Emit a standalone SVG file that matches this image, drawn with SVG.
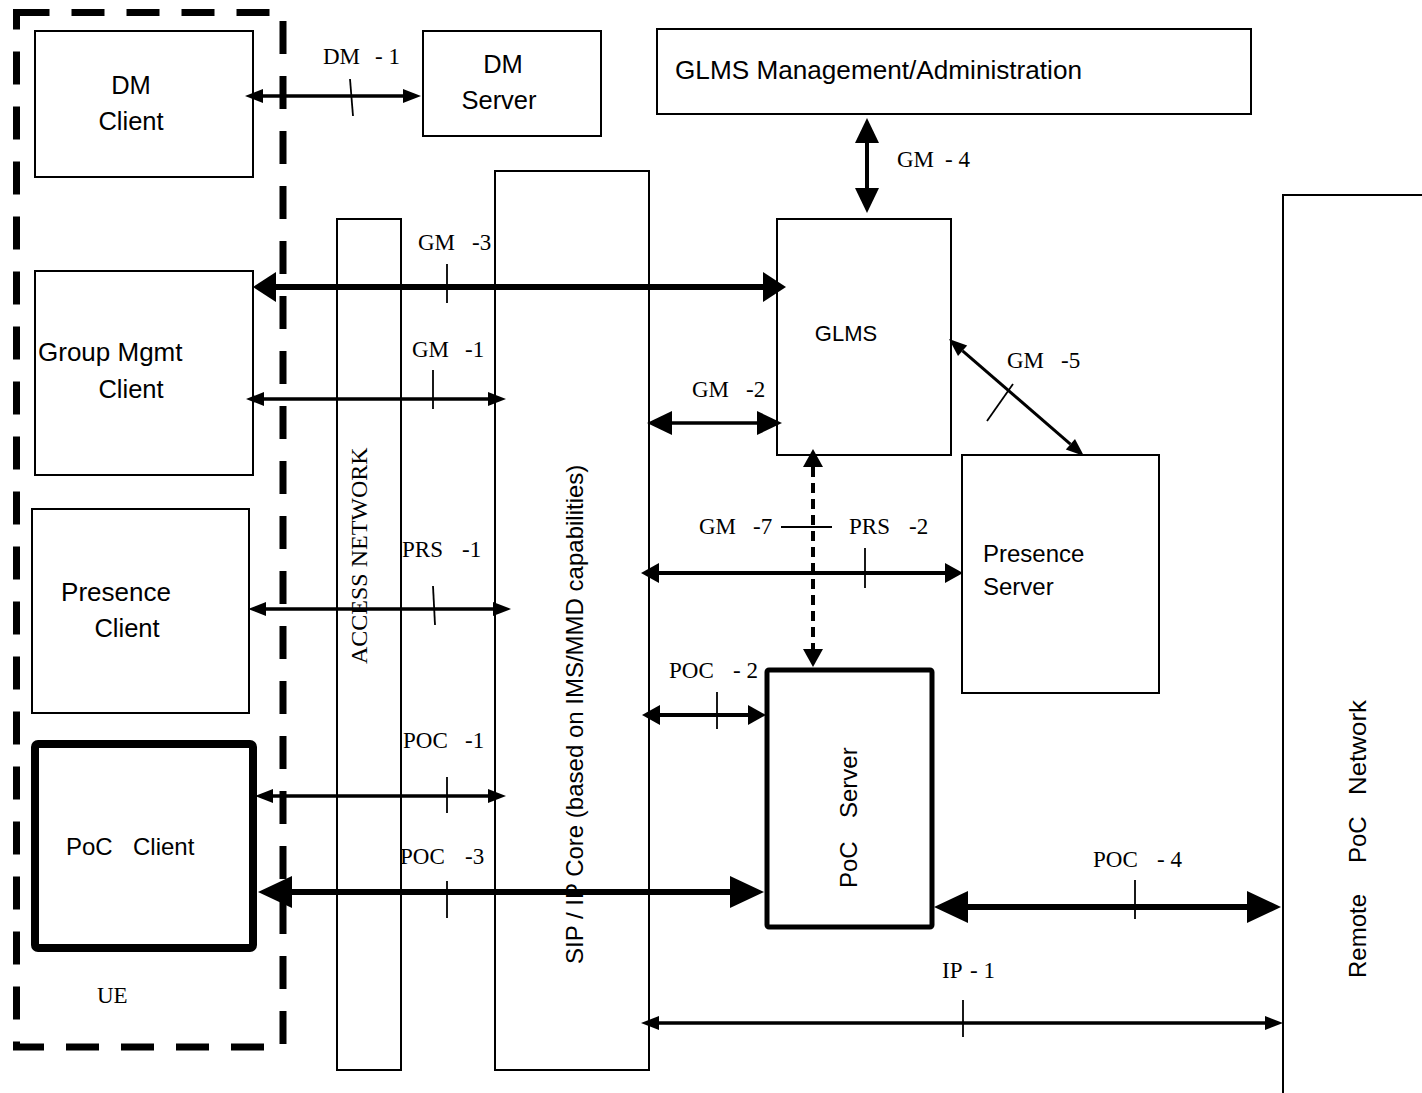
<svg xmlns="http://www.w3.org/2000/svg" width="1422" height="1093" viewBox="0 0 1422 1093">
<style>
.box{fill:#fff;stroke:#000;stroke-width:2}
.thick{fill:#fff;stroke:#000}
.sans{font-family:"Liberation Sans",Arial,sans-serif;font-size:24px;fill:#000}
.big{font-size:25.5px}
.serif{font-family:"Liberation Serif","Times New Roman",serif;font-size:23px;fill:#000}
.conn{fill:none;stroke:#000}
.tick{stroke:#000;stroke-width:1.8;fill:none}
</style>
<defs>
<marker id="a1" markerUnits="userSpaceOnUse" markerWidth="18" markerHeight="14" refX="0" refY="7" orient="auto-start-reverse" overflow="visible"><path d="M0,0 L18,7 L0,14 z" fill="#000"/></marker>
<marker id="a2" markerUnits="userSpaceOnUse" markerWidth="18" markerHeight="20" refX="0" refY="10" orient="auto-start-reverse" overflow="visible"><path d="M0,0 L18,10 L0,20 z" fill="#000"/></marker>
<marker id="a3" markerUnits="userSpaceOnUse" markerWidth="25" markerHeight="24" refX="0" refY="12" orient="auto-start-reverse" overflow="visible"><path d="M0,0 L25,12 L0,24 z" fill="#000"/></marker>
<marker id="a4" markerUnits="userSpaceOnUse" markerWidth="23" markerHeight="30" refX="0" refY="15" orient="auto-start-reverse" overflow="visible"><path d="M0,0 L23,15 L0,30 z" fill="#000"/></marker>
<marker id="a5" markerUnits="userSpaceOnUse" markerWidth="34" markerHeight="32" refX="0" refY="16" orient="auto-start-reverse" overflow="visible"><path d="M0,0 L34,16 L0,32 z" fill="#000"/></marker>
</defs>
<rect width="1422" height="1093" fill="#fff"/>

<g id="ue">
<rect x="16.5" y="12.5" width="266.5" height="1034.5" fill="none" stroke="#000" stroke-width="7" stroke-dasharray="33 22"/>
<text class="serif" x="97" y="1003">UE</text>
</g>

<g id="dm-client">
<rect class="box" x="35" y="31" width="218" height="146"/>
<text class="sans big" x="131" y="94" text-anchor="middle">DM</text>
<text class="sans big" x="131" y="130" text-anchor="middle">Client</text>
</g>

<g id="dm-server">
<rect class="box" x="423" y="31" width="178" height="105"/>
<text class="sans big" x="503" y="73" text-anchor="middle">DM</text>
<text class="sans big" x="499" y="109" text-anchor="middle">Server</text>
</g>

<g id="glms-mgmt">
<rect class="box" x="657" y="29" width="594" height="85"/>
<text class="sans big" x="675" y="79" textLength="407" lengthAdjust="spacingAndGlyphs">GLMS Management/Administration</text>
</g>

<g id="access-network">
<rect class="box" x="337" y="219" width="64" height="851"/>
<text class="serif" transform="translate(367,664) rotate(-90)" style="font-size:24px">ACCESS NETWORK</text>
</g>

<g id="sip-core">
<rect class="box" x="495" y="171" width="154" height="899"/>
<text class="sans" transform="translate(583,964) rotate(-90)">SIP / IP Core (based on IMS/MMD capabilities)</text>
</g>

<g id="glms">
<rect class="box" x="777" y="219" width="174" height="236"/>
<text class="sans" x="846" y="341" text-anchor="middle" style="font-size:22px">GLMS</text>
</g>

<g id="group-mgmt-client">
<rect class="box" x="35" y="271" width="218" height="204"/>
<text class="sans" x="38" y="361" style="font-size:26px">Group Mgmt</text>
<text class="sans big" x="131" y="398" text-anchor="middle">Client</text>
</g>

<g id="presence-client">
<rect class="box" x="32" y="509" width="217" height="204"/>
<text class="sans" x="116" y="601" text-anchor="middle" style="font-size:26px">Presence</text>
<text class="sans big" x="127" y="637" text-anchor="middle">Client</text>
</g>

<g id="poc-client">
<rect class="thick" x="35" y="744" width="218" height="204" rx="3" stroke-width="8"/>
<text class="sans" y="855"><tspan x="66">PoC</tspan> <tspan x="133">Client</tspan></text>
</g>

<g id="presence-server">
<rect class="box" x="962" y="455" width="197" height="238"/>
<text class="sans" x="983" y="562">Presence</text>
<text class="sans" x="983" y="595">Server</text>
</g>

<g id="poc-server">
<rect class="thick" x="767" y="670" width="165" height="257" rx="2" stroke-width="5"/>
<text class="sans" transform="translate(857,888) rotate(-90)"><tspan x="0">PoC</tspan> <tspan x="70">Server</tspan></text>
</g>

<g id="remote-poc-network">
<path d="M1283,1093 V195 H1422" fill="none" stroke="#000" stroke-width="2"/>
<text class="sans" transform="translate(1366,978) rotate(-90)"><tspan x="0">Remote</tspan> <tspan x="115">PoC</tspan> <tspan x="183" textLength="95" lengthAdjust="spacingAndGlyphs">Network</tspan></text>
</g>

<g id="connectors">
<line class="conn" x1="263" y1="96" x2="403" y2="96" stroke-width="3.5" marker-start="url(#a1)" marker-end="url(#a1)"/>
<line class="conn" x1="867" y1="143" x2="867" y2="188" stroke-width="4" marker-start="url(#a3)" marker-end="url(#a3)"/>
<line class="conn" x1="276" y1="287" x2="763" y2="287" stroke-width="6" marker-start="url(#a4)" marker-end="url(#a4)"/>
<line class="conn" x1="264" y1="399" x2="488" y2="399" stroke-width="3.5" marker-start="url(#a1)" marker-end="url(#a1)"/>
<line class="conn" x1="672" y1="423" x2="757" y2="423" stroke-width="3.5" marker-start="url(#a3)" marker-end="url(#a3)"/>
<line class="conn" x1="962.6" y1="350.8" x2="1070.4" y2="444.2" stroke-width="3" marker-start="url(#a1)" marker-end="url(#a1)"/>
<line class="conn" x1="813" y1="467" x2="813" y2="649" stroke-width="4" stroke-dasharray="10 6" marker-start="url(#a2)" marker-end="url(#a2)"/>
<line class="conn" x1="659" y1="573" x2="945" y2="573" stroke-width="4" marker-start="url(#a2)" marker-end="url(#a2)"/>
<line class="conn" x1="266" y1="609" x2="493" y2="609" stroke-width="3.5" marker-start="url(#a1)" marker-end="url(#a1)"/>
<line class="conn" x1="660" y1="715" x2="748" y2="715" stroke-width="4" marker-start="url(#a2)" marker-end="url(#a2)"/>
<line class="conn" x1="273" y1="796" x2="488" y2="796" stroke-width="3.5" marker-start="url(#a1)" marker-end="url(#a1)"/>
<line class="conn" x1="292" y1="892" x2="730" y2="892" stroke-width="6" marker-start="url(#a5)" marker-end="url(#a5)"/>
<line class="conn" x1="968" y1="907" x2="1247" y2="907" stroke-width="6" marker-start="url(#a5)" marker-end="url(#a5)"/>
<line class="conn" x1="659" y1="1023" x2="1265" y2="1023" stroke-width="3.5" marker-start="url(#a1)" marker-end="url(#a1)"/>

<line class="tick" x1="350" y1="79" x2="353" y2="116"/>
<line class="tick" x1="447" y1="264" x2="447" y2="303"/>
<line class="tick" x1="433" y1="370" x2="433" y2="409"/>
<line class="tick" x1="987" y1="421" x2="1013" y2="384"/>
<line class="tick" x1="781" y1="527" x2="832" y2="527"/>
<line class="tick" x1="865" y1="548" x2="865" y2="588"/>
<line class="tick" x1="433" y1="586" x2="435" y2="625"/>
<line class="tick" x1="717" y1="692" x2="717" y2="729"/>
<line class="tick" x1="447" y1="777" x2="447" y2="813"/>
<line class="tick" x1="447" y1="881" x2="447" y2="918"/>
<line class="tick" x1="1135" y1="880" x2="1135" y2="919"/>
<line class="tick" x1="963" y1="1000" x2="963" y2="1037"/>

<text class="serif" y="64"><tspan x="323">DM</tspan> <tspan x="375">- 1</tspan></text>
<text class="serif" y="167"><tspan x="897">GM</tspan> <tspan x="945">- 4</tspan></text>
<text class="serif" y="250"><tspan x="418">GM</tspan> <tspan x="472">-3</tspan></text>
<text class="serif" y="357"><tspan x="412">GM</tspan> <tspan x="465">-1</tspan></text>
<text class="serif" y="397"><tspan x="692">GM</tspan> <tspan x="746">-2</tspan></text>
<text class="serif" y="368"><tspan x="1007">GM</tspan> <tspan x="1061">-5</tspan></text>
<text class="serif" y="534"><tspan x="699">GM</tspan> <tspan x="753">-7</tspan></text>
<text class="serif" y="534"><tspan x="849">PRS</tspan> <tspan x="909">-2</tspan></text>
<text class="serif" y="557"><tspan x="402">PRS</tspan> <tspan x="462">-1</tspan></text>
<text class="serif" y="678"><tspan x="669">POC</tspan> <tspan x="733">- 2</tspan></text>
<text class="serif" y="748"><tspan x="403">POC</tspan> <tspan x="465">-1</tspan></text>
<text class="serif" y="864"><tspan x="400">POC</tspan> <tspan x="465">-3</tspan></text>
<text class="serif" y="867"><tspan x="1093">POC</tspan> <tspan x="1157">- 4</tspan></text>
<text class="serif" y="978"><tspan x="942">IP</tspan> <tspan x="970">- 1</tspan></text>
</g>
</svg>
